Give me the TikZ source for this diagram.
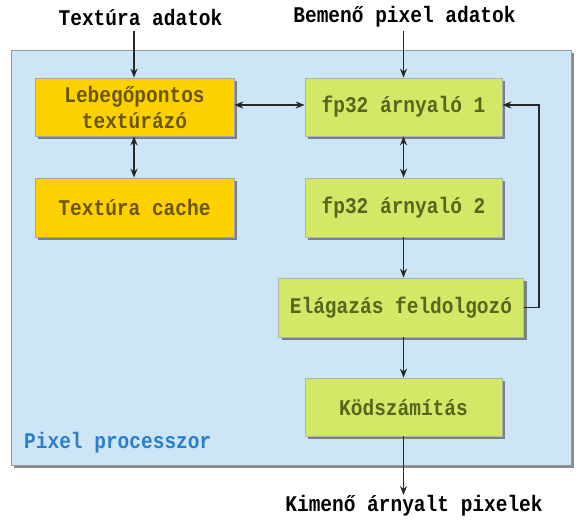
\documentclass[tikz,border=0pt]{standalone}
\usepackage{fontspec}
\setmonofont{Liberation Mono}[FakeStretch=0.87]
\usetikzlibrary{shadows,arrows.meta}
\definecolor{panel}{HTML}{CCE6F7}
\definecolor{ybox}{HTML}{FDD100}
\definecolor{gbox}{HTML}{D2E866}
\definecolor{ytext}{HTML}{6A5700}
\definecolor{gtext}{HTML}{56661C}
\definecolor{blab}{HTML}{2C7DCA}
\tikzset{
  mono/.style={font=\ttfamily\bfseries\fontsize{22.4}{25}\selectfont},
  shad/.style={drop shadow={shadow xshift=3pt,shadow yshift=-3pt,fill=black!70,opacity=.65}},
  ybx/.style={mono,draw=black!35,line width=0.7pt,fill=ybox,text=ytext,shad,align=center,inner sep=0pt},
  gbx/.style={mono,draw=black!30,line width=0.7pt,fill=gbox,text=gtext,shad,align=center,inner sep=0pt},
  lab/.style={mono,text=black},
  arr/.style={-{Stealth[length=9pt,width=7pt]},line width=1.5pt,black!85},
  darr/.style={{Stealth[length=9pt,width=7pt]}-{Stealth[length=9pt,width=7pt]},line width=1.5pt,black!85}
}
\begin{document}
\begin{tikzpicture}[x=1pt,y=-1pt]
\useasboundingbox (0,0) rectangle (585,524);
\node[draw=black!40,line width=0.7pt,fill=panel,shad,minimum width=560pt,minimum height=415pt,anchor=north west,inner sep=0pt] (panel) at (11,50) {};
\node[mono,text=blab,anchor=west,inner sep=0pt] (plab) at (24,443) {Pixel processzor};
\node[ybx,minimum width=199pt,minimum height=58pt] (lebeg) at (134.5,107) {Lebegőpontos\\[1pt]textúrázó};
\node[ybx,minimum width=199pt,minimum height=59pt] (cache) at (134.5,207.5) {Textúra cache};
\node[gbx,minimum width=197pt,minimum height=58pt] (fp1) at (403.5,107) {fp32 árnyaló 1};
\node[gbx,minimum width=197pt,minimum height=59pt] (fp2) at (403.5,207.5) {fp32 árnyaló 2};
\node[gbx,minimum width=245pt,minimum height=59pt] (elag) at (401,307.5) {Elágazás feldolgozó};
\node[gbx,minimum width=197pt,minimum height=58pt] (kod) at (403.5,407) {Ködszámítás};
\node[lab] (tin) at (140.5,17) {Textúra adatok};
\node[lab] (bin) at (404.5,17) {Bemenő pixel adatok};
\node[lab] (kout) at (414,506) {Kimenő árnyalt pixelek};
\coordinate (c1) at (539,307.5);
\coordinate (c2) at (539,105);
\coordinate (tinb) at (134,31);
\coordinate (kob) at (403.5,495);
\draw[arr] (tinb) -- (lebeg.north -| tinb);
\draw[arr] (bin.south -| fp1.north) -- (fp1.north);
\draw[darr] (lebeg.east |- c2) -- (fp1.west |- c2);
\draw[darr] (lebeg.south -| tinb) -- (cache.north -| tinb);
\draw[darr] (fp1.south) -- (fp2.north);
\draw[arr] (fp2.south) -- (elag.north -| fp2.south);
\draw[arr] (elag.south -| kod.north) -- (kod.north);
\draw[arr] (kod.south) -- (kob);
\draw[arr] (elag.east |- c1) -- (c1) -- (c2) -- (fp1.east |- c2);
\end{tikzpicture}
\end{document}
